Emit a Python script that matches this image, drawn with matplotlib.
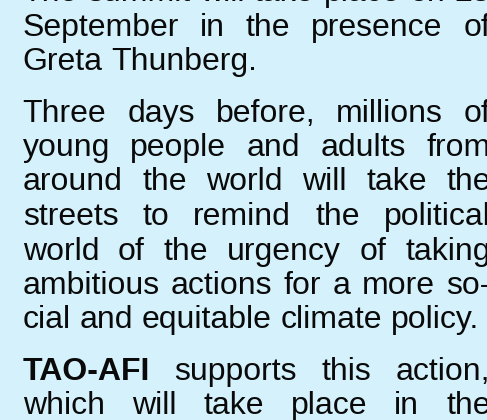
import matplotlib
matplotlib.use("Agg")
import matplotlib.pyplot as plt

# tekst, regel voor regel zoals in het origineel (uitgevuld)
para1 = ["The summit will take place on 23",
         "September in the presence of",
         "Greta Thunberg."]
para2 = ["Three days before, millions of",
         "young people and adults from",
         "around the world will take the",
         "streets to remind the political",
         "world of the urgency of taking",
         "ambitious actions for a more so-",
         "cial and equitable climate policy."]
para3 = ["TAO-AFI supports this action,",
         "which will take place in the"]
paragraphs = [para1, para2, para3]
para_ends = [True, True, False]  # laatste alinea loopt door buiten beeld
bold_words = ["TAO-AFI"]

W, H = 487, 420
bg = "#d5f2fc"
left, right = 22.7, 490.5
first_baseline = 1.0
line_step = 34.5
para_gap = 17.0
fsize = 32.0 * 72 / 100

fig = plt.figure(figsize=(W / 100, H / 100), dpi=100, facecolor=bg)
ax = fig.add_axes([0, 0, 1, 1])
ax.set_xlim(0, W)
ax.set_ylim(H, 0)
ax.axis("off")
ax.set_facecolor(bg)
renderer = fig.canvas.get_renderer()


def word_text(x, y, w):
    weight = "bold" if w in bold_words else "normal"
    return ax.text(x, y, w, fontsize=fsize, family="Liberation Sans",
                   fontweight=weight, color="#0a0a0a", va="baseline", ha="left")


def measure(s):
    t = word_text(0, 0, s)
    wd = t.get_window_extent(renderer).width
    t.remove()
    return wd


space = measure("a a") - 2 * measure("a")

y = first_baseline
for p, ends in zip(paragraphs, para_ends):
    for i, line in enumerate(p):
        words = line.split()
        yb = round(y)  # hele pixels, anders springen woorden op en neer
        texts = [word_text(0, yb, w) for w in words]
        widths = [t.get_window_extent(renderer).width for t in texts]
        last = ends and i == len(p) - 1
        if last or len(words) == 1:
            gap = space
        else:
            gap = (right - left - sum(widths)) / (len(words) - 1)
        x = left
        for t, wd in zip(texts, widths):
            t.set_x(x)
            x += wd + gap
        y += line_step
    y += para_gap

fig.savefig("out.png", dpi=100, facecolor=bg)
